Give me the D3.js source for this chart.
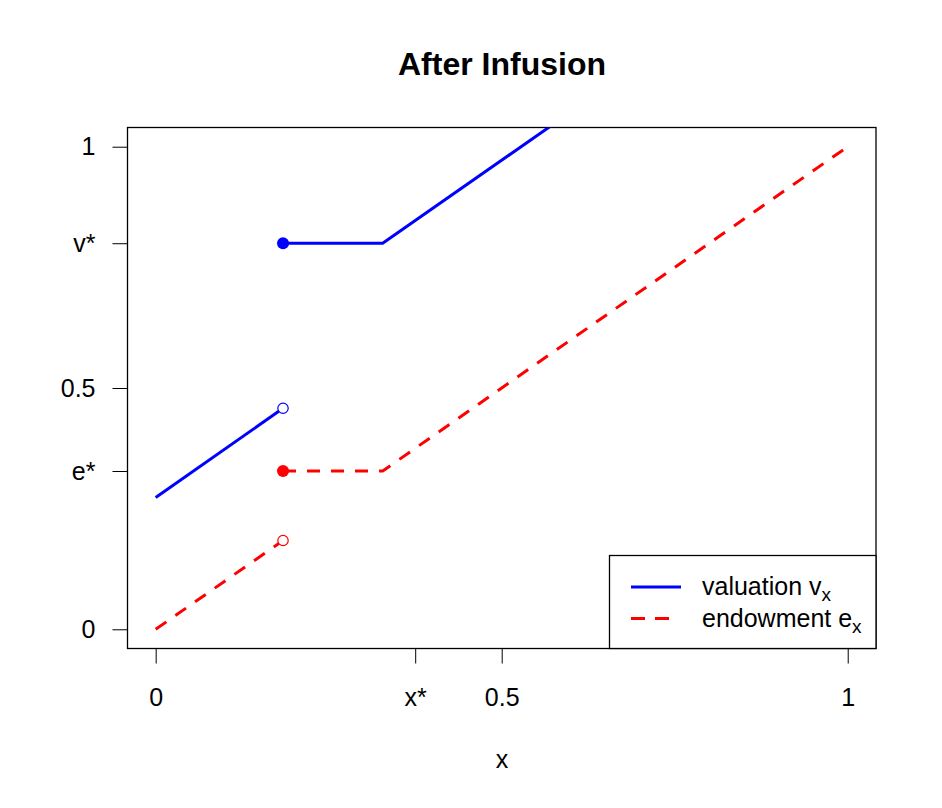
<!DOCTYPE html>
<html>
<head>
<meta charset="utf-8">
<script src="https://cdn.jsdelivr.net/npm/d3@7"></script>
<style>
  html, body { margin: 0; padding: 0; background: #fff; }
  svg text { font-family: "Liberation Sans", Arial, sans-serif; fill: #000; }
</style>
</head>
<body>
<svg id="chart" width="942" height="808"></svg>
<script>
// x ticks and y ticks (labelled with symbolic names)
const xTicks = [0, 0.375, 0.5, 1];
const xTickLabels = ["0", "x*", "0.5", "1"];
const yTicks = [0, 0.328, 0.5, 0.8, 1];
const yTickLabels = ["0", "e*", "0.5", "v*", "1"];

// valuation v_x, below and above the jump at x = 0.184
const valuationLow = [[0, 0.273], [0.184, 0.458]];
const valuationHigh = [[0.184, 0.8], [0.328, 0.8], [1, 1.472]];

// endowment e_x
const endowmentLow = [[0, 0], [0.184, 0.184]];
const endowmentHigh = [[0.184, 0.328], [0.328, 0.328], [1, 1]];

const openPoints = [
  { p: [0.184, 0.458], color: "blue" },
  { p: [0.184, 0.184], color: "red" }
];
const filledPoints = [
  { p: [0.184, 0.8], color: "blue" },
  { p: [0.184, 0.328], color: "red" }
];

const legendItems = [
  { label: "valuation v", sub: "x", color: "blue", dash: null },
  { label: "endowment e", sub: "x", color: "red", dash: "14,10,14,100" }
];

const svg = d3.select("#chart");

const x = d3.scaleLinear().domain([-0.04, 1.04]).range([128, 875.4]);
const y = d3.scaleLinear().domain([-0.04, 1.04]).range([648.6, 127.4]);

const boxL = 127.5, boxR = 876, boxT = 127.5, boxB = 648.5;
const fontSize = "25px";

svg.append("defs").append("clipPath")
  .attr("id", "plot-clip")
  .append("rect")
  .attr("x", boxL).attr("y", boxT)
  .attr("width", boxR - boxL).attr("height", boxB - boxT);

// Title
svg.append("text")
  .attr("x", 502)
  .attr("y", 75)
  .attr("text-anchor", "middle")
  .attr("font-size", "32px")
  .attr("font-weight", "bold")
  .text("After Infusion");

// Axis label
svg.append("text")
  .attr("x", 502)
  .attr("y", 768)
  .attr("text-anchor", "middle")
  .attr("font-size", fontSize)
  .text("x");

// Axes: ticks only, no axis line
const xAxis = svg.append("g")
  .attr("transform", `translate(0, ${boxB})`)
  .call(d3.axisBottom(x).tickValues(xTicks)
    .tickFormat((d, i) => xTickLabels[i])
    .tickSize(15).tickPadding(24.5));
xAxis.select(".domain").remove();
xAxis.selectAll("text")
  .attr("font-size", fontSize)
  .attr("font-family", "Liberation Sans, Arial, sans-serif")
  .attr("fill", "#000");
xAxis.selectAll("line").attr("stroke", "#000");

const yAxis = svg.append("g")
  .attr("transform", `translate(${boxL}, 0)`)
  .call(d3.axisLeft(y).tickValues(yTicks)
    .tickFormat((d, i) => yTickLabels[i])
    .tickSize(15).tickPadding(17));
yAxis.select(".domain").remove();
yAxis.selectAll("text")
  .attr("font-size", fontSize)
  .attr("font-family", "Liberation Sans, Arial, sans-serif")
  .attr("fill", "#000");
yAxis.selectAll("line").attr("stroke", "#000");

// Plot box
svg.append("rect")
  .attr("x", boxL).attr("y", boxT)
  .attr("width", boxR - boxL).attr("height", boxB - boxT)
  .attr("fill", "none")
  .attr("stroke", "#000")
  .attr("stroke-width", 1.3);

const line = d3.line().x(d => x(d[0])).y(d => y(d[1]));
const plot = svg.append("g").attr("clip-path", "url(#plot-clip)");

[valuationLow, valuationHigh].forEach(seg => {
  plot.append("path")
    .attr("d", line(seg))
    .attr("fill", "none")
    .attr("stroke", "blue")
    .attr("stroke-width", 3);
});

[endowmentLow, endowmentHigh].forEach(seg => {
  plot.append("path")
    .attr("d", line(seg))
    .attr("fill", "none")
    .attr("stroke", "red")
    .attr("stroke-width", 3)
    .attr("stroke-dasharray", "13,11");
});

plot.selectAll(".open-pt")
  .data(openPoints)
  .enter()
  .append("circle")
  .attr("class", "open-pt")
  .attr("cx", d => x(d.p[0]))
  .attr("cy", d => y(d.p[1]))
  .attr("r", 5.2)
  .attr("fill", "#fff")
  .attr("stroke", d => d.color)
  .attr("stroke-width", 1.2);

plot.selectAll(".filled-pt")
  .data(filledPoints)
  .enter()
  .append("circle")
  .attr("class", "filled-pt")
  .attr("cx", d => x(d.p[0]))
  .attr("cy", d => y(d.p[1]))
  .attr("r", 6)
  .attr("fill", d => d.color);

// Legend
const legend = svg.append("g");
legend.append("rect")
  .attr("x", 609.5).attr("y", 555.5)
  .attr("width", boxR - 609.5).attr("height", boxB - 555.5)
  .attr("fill", "#fff")
  .attr("stroke", "#000")
  .attr("stroke-width", 1.3);

const rows = legend.selectAll(".legend-row")
  .data(legendItems)
  .enter()
  .append("g")
  .attr("class", "legend-row")
  .attr("transform", (d, i) => `translate(0, ${587 + i * 31.5})`);

rows.append("line")
  .attr("x1", 631).attr("x2", 681)
  .attr("y1", 0).attr("y2", 0)
  .attr("stroke", d => d.color)
  .attr("stroke-width", 3)
  .attr("stroke-dasharray", d => d.dash);

const labels = rows.append("text")
  .attr("x", 702)
  .attr("y", 8)
  .attr("font-size", fontSize);
labels.append("tspan").text(d => d.label);
labels.append("tspan")
  .attr("font-size", "19px")
  .attr("dy", 6)
  .text(d => d.sub);
</script>
</body>
</html>
